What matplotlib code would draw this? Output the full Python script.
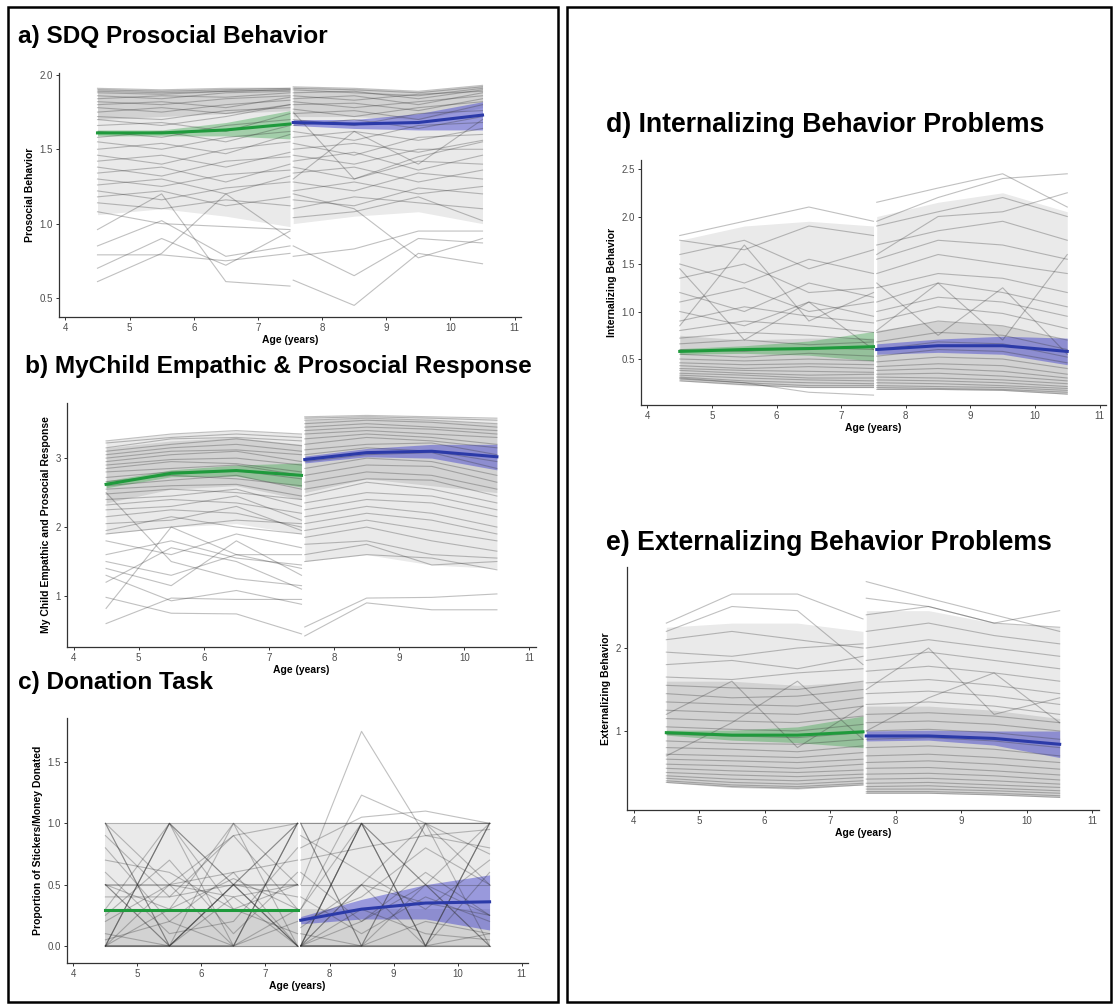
import numpy as np
import matplotlib
matplotlib.use("Agg")
import matplotlib.pyplot as plt
from matplotlib.patches import Rectangle

plt.rcParams["font.family"] = ["Liberation Sans", "DejaVu Sans"]

# ages of the two waves
ages_w1 = [4.5, 5.5, 6.5, 7.5]
ages_w2 = [7.55, 8.5, 9.5, 10.5]

# ---- a) SDQ prosocial: individual trajectories ----
a_w1 = [[1.91, 1.90, 1.91, 1.91], [1.90, 1.89, 1.90, 1.91], [1.89, 1.88, 1.89, 1.90],
        [1.88, 1.87, 1.89, 1.90], [1.86, 1.84, 1.88, 1.89], [1.84, 1.86, 1.85, 1.88],
        [1.82, 1.80, 1.84, 1.86], [1.80, 1.82, 1.78, 1.85], [1.78, 1.75, 1.80, 1.83],
        [1.75, 1.78, 1.74, 1.80], [1.72, 1.70, 1.76, 1.78], [1.70, 1.66, 1.72, 1.80],
        [1.66, 1.68, 1.62, 1.74], [1.62, 1.58, 1.66, 1.70], [1.58, 1.62, 1.55, 1.66],
        [1.55, 1.50, 1.58, 1.62], [1.50, 1.54, 1.47, 1.60], [1.46, 1.40, 1.50, 1.55],
        [1.42, 1.46, 1.38, 1.48], [1.38, 1.32, 1.42, 1.45], [1.34, 1.38, 1.28, 1.40],
        [1.30, 1.25, 1.33, 1.36], [1.26, 1.30, 1.20, 1.32], [1.22, 1.16, 1.24, 1.28],
        [1.18, 1.22, 1.12, 1.18], [1.14, 1.10, 1.16, 1.12], [1.08, 1.00, 0.98, 0.96],
        [0.85, 1.02, 0.78, 0.85], [0.79, 0.79, 0.75, 0.80], [0.70, 0.90, 0.72, 0.95],
        [0.61, 0.80, 1.20, 0.90], [0.96, 1.20, 0.61, 0.58]]
a_w2 = [[1.92, 1.91, 1.89, 1.93], [1.91, 1.90, 1.88, 1.92], [1.90, 1.88, 1.86, 1.91],
        [1.88, 1.89, 1.84, 1.90], [1.86, 1.83, 1.87, 1.89], [1.84, 1.86, 1.80, 1.88],
        [1.82, 1.78, 1.82, 1.86], [1.80, 1.81, 1.76, 1.84], [1.77, 1.72, 1.78, 1.82],
        [1.74, 1.76, 1.70, 1.80], [1.70, 1.66, 1.74, 1.76], [1.66, 1.70, 1.64, 1.72],
        [1.62, 1.56, 1.66, 1.68], [1.58, 1.62, 1.56, 1.64], [1.54, 1.46, 1.58, 1.60],
        [1.50, 1.54, 1.48, 1.56], [1.46, 1.40, 1.50, 1.50], [1.42, 1.48, 1.36, 1.46],
        [1.38, 1.30, 1.42, 1.40], [1.34, 1.38, 1.28, 1.36], [1.28, 1.22, 1.34, 1.30],
        [1.22, 1.28, 1.20, 1.25], [1.16, 1.12, 1.24, 1.20], [1.10, 1.18, 1.14, 1.10],
        [1.04, 1.08, 1.18, 1.02], [1.75, 1.30, 1.45, 1.55], [1.30, 1.62, 1.40, 1.70],
        [0.62, 0.45, 0.80, 0.73], [0.85, 0.65, 0.90, 0.87], [0.78, 0.83, 0.95, 0.95],
        [1.20, 1.10, 0.77, 0.90]]
# gray haze: where most trajectories lie (outer) and the darkest part (core)
a_outer_w1 = ([1.06, 1.10, 1.05, 0.98], [1.91, 1.90, 1.91, 1.91])
a_core_w1 = ([1.70, 1.72, 1.74, 1.76], [1.91, 1.90, 1.91, 1.91])
a_outer_w2 = ([1.00, 1.05, 1.08, 1.00], [1.92, 1.91, 1.89, 1.93])
a_core_w2 = ([1.72, 1.72, 1.70, 1.78], [1.92, 1.91, 1.89, 1.93])
a_mean_w1 = [1.61, 1.61, 1.63, 1.67]
a_lo_w1 = [1.59, 1.59, 1.59, 1.57]
a_hi_w1 = [1.63, 1.63, 1.68, 1.76]
a_mean_w2 = [1.68, 1.67, 1.68, 1.73]
a_lo_w2 = [1.66, 1.64, 1.63, 1.63]
a_hi_w2 = [1.70, 1.70, 1.74, 1.82]

# ---- b) MyChild empathic & prosocial response ----
b_w1 = [[3.25, 3.35, 3.40, 3.35], [3.22, 3.30, 3.35, 3.30], [3.15, 3.28, 3.30, 3.25],
        [3.10, 3.20, 3.28, 3.18], [3.05, 3.15, 3.20, 3.10], [3.00, 3.10, 3.12, 3.05],
        [2.95, 3.05, 3.10, 2.95], [2.90, 2.98, 3.00, 2.90], [2.85, 2.95, 2.92, 2.80],
        [2.80, 2.85, 2.90, 2.75], [2.72, 2.80, 2.82, 2.70], [2.66, 2.75, 2.70, 2.60],
        [2.60, 2.68, 2.75, 2.55], [2.55, 2.60, 2.62, 2.45], [2.48, 2.55, 2.50, 2.40],
        [2.40, 2.45, 2.55, 2.30], [2.32, 2.40, 2.35, 2.20], [2.25, 2.30, 2.45, 2.10],
        [2.15, 2.25, 2.20, 2.00], [2.05, 2.10, 2.30, 1.95], [1.95, 2.15, 2.00, 1.90],
        [1.90, 2.00, 2.10, 2.05], [1.80, 1.60, 1.90, 1.70], [1.60, 1.80, 1.55, 1.45],
        [1.50, 1.30, 1.60, 1.60], [1.40, 1.15, 1.80, 1.30], [2.50, 1.50, 1.25, 1.15],
        [1.20, 1.70, 1.50, 1.10], [0.82, 2.00, 1.60, 1.40], [0.98, 0.75, 0.74, 0.45],
        [0.60, 0.97, 0.95, 0.95], [1.30, 0.93, 1.08, 0.88]]
b_w2 = [[3.60, 3.62, 3.60, 3.58], [3.58, 3.60, 3.58, 3.55], [3.55, 3.58, 3.55, 3.50],
        [3.50, 3.55, 3.52, 3.45], [3.45, 3.50, 3.45, 3.40], [3.40, 3.45, 3.42, 3.35],
        [3.35, 3.40, 3.35, 3.30], [3.28, 3.35, 3.30, 3.20], [3.20, 3.30, 3.25, 3.15],
        [3.12, 3.20, 3.22, 3.05], [3.05, 3.15, 3.10, 2.95], [2.95, 3.05, 3.08, 2.85],
        [2.85, 3.00, 2.95, 2.75], [2.75, 2.90, 2.88, 2.65], [2.65, 2.80, 2.75, 2.55],
        [2.55, 2.70, 2.68, 2.45], [2.45, 2.65, 2.55, 2.35], [2.35, 2.50, 2.45, 2.25],
        [2.25, 2.40, 2.35, 2.15], [2.15, 2.30, 2.20, 2.00], [2.05, 2.20, 2.10, 1.90],
        [1.95, 2.10, 1.95, 1.80], [1.85, 2.00, 1.80, 1.65], [1.75, 1.80, 1.60, 1.55],
        [1.60, 1.75, 1.45, 1.50], [1.50, 1.60, 1.55, 1.38], [0.55, 0.97, 0.98, 1.03],
        [0.42, 0.90, 0.80, 0.80]]
b_outer_w1 = ([1.90, 2.00, 2.05, 1.90], [3.25, 3.35, 3.40, 3.35])
b_core_w1 = ([2.35, 2.55, 2.60, 2.40], [3.15, 3.25, 3.30, 3.20])
b_outer_w2 = ([1.50, 1.60, 1.45, 1.40], [3.60, 3.62, 3.60, 3.58])
b_core_w2 = ([2.50, 2.70, 2.60, 2.50], [3.55, 3.58, 3.55, 3.50])
b_mean_w1 = [2.62, 2.78, 2.82, 2.75]
b_lo_w1 = [2.57, 2.73, 2.74, 2.58]
b_hi_w1 = [2.67, 2.83, 2.90, 2.93]
b_mean_w2 = [2.98, 3.08, 3.10, 3.02]
b_lo_w2 = [2.93, 3.02, 3.00, 2.83]
b_hi_w2 = [3.03, 3.14, 3.20, 3.20]

# ---- c) Donation task ----
c_w1 = [[1, 0, 0.5, 0], [1, 0.5, 0, 1], [0, 1, 0, 1], [0, 1, 0.5, 0], [0, 0, 0.5, 1],
        [0.5, 0.5, 0.5, 0.5], [0.5, 0, 1, 0], [0, 0.5, 0.6, 0], [0.9, 0.4, 0.9, 0.3],
        [0.8, 0.2, 0.6, 0.7], [0, 0, 0, 0], [0, 0, 0, 0.2], [0.1, 0, 0.4, 0],
        [0.3, 1.0, 0.3, 0.1], [0.4, 0.4, 0.5, 0.4], [0.2, 0.5, 0.9, 1.0],
        [0.7, 0.6, 0.3, 0.5], [0.6, 0.1, 0.2, 0.8], [0, 0.3, 1, 0.5], [1, 1, 1, 1],
        [0.5, 0.3, 0.55, 0.3], [0.25, 0.7, 0.1, 0.6], [0, 0, 0.5, 0.5],
        [0.05, 0.2, 0.0, 0.3], [0, 0, 0, 0], [0.5, 0.5, 0.4, 0.5], [1, 0, 0, 1],
        [0, 1, 0.5, 1], [0.5, 0, 0.5, 0]]
c_w2 = [[1, 0, 1, 0], [0, 1, 0, 1], [0, 1, 1, 1], [1, 1, 1, 1], [0, 0, 0, 0],
        [0, 0.5, 0, 1], [0.5, 0.5, 0.5, 0.5], [0, 1, 0.5, 0.25], [1, 0, 0, 1],
        [0, 0, 1, 0.75], [0.9, 0.6, 0.3, 0.7], [0.2, 0.4, 0.8, 0.5], [0.1, 0, 0.2, 0.1],
        [0, 0.3, 0.1, 0.05], [0.6, 0.2, 0.5, 0], [0.3, 1, 0, 0.6], [0, 0.2, 0.6, 0.25],
        [0.7, 0.8, 0.9, 0.8], [0.4, 0.1, 0.4, 0.2], [0, 0, 0.5, 0], [0.5, 1.75, 0.9, 0.95],
        [0.3, 1.23, 1.0, 1.0], [0.8, 1.05, 1.1, 1.0], [0, 0, 0, 0.1],
        [0.15, 0.5, 0.35, 0.25], [0, 0, 0, 0], [0, 1, 0, 0], [1, 1, 0.5, 1],
        [0, 0.5, 1, 0.5]]
c_outer_w1 = ([0, 0, 0, 0], [1, 1, 1, 1])
c_core_w1 = ([0, 0, 0, 0], [0.3, 0.3, 0.3, 0.3])
c_outer_w2 = ([0, 0, 0, 0], [1, 1, 1, 1])
c_core_w2 = ([0, 0, 0, 0], [0.3, 0.3, 0.3, 0.3])
c_mean_w1 = [0.29, 0.29, 0.29, 0.29]
c_lo_w1 = [0.28, 0.28, 0.28, 0.28]
c_hi_w1 = [0.30, 0.30, 0.30, 0.30]
c_mean_w2 = [0.21, 0.30, 0.35, 0.36]
c_lo_w2 = [0.18, 0.22, 0.22, 0.13]
c_hi_w2 = [0.24, 0.38, 0.50, 0.58]

# ---- d) Internalizing ----
d_w1 = [[0.27, 0.23, 0.20, 0.20], [0.29, 0.25, 0.22, 0.22], [0.31, 0.27, 0.25, 0.24],
        [0.33, 0.30, 0.28, 0.27], [0.35, 0.33, 0.30, 0.30], [0.38, 0.35, 0.33, 0.34],
        [0.40, 0.38, 0.37, 0.36], [0.43, 0.40, 0.42, 0.40], [0.46, 0.44, 0.45, 0.44],
        [0.50, 0.48, 0.50, 0.48], [0.55, 0.52, 0.56, 0.53], [0.60, 0.58, 0.62, 0.60],
        [0.66, 0.70, 0.65, 0.68], [0.72, 0.78, 0.75, 0.70], [0.80, 0.90, 0.85, 0.78],
        [0.90, 1.05, 0.95, 0.88], [1.00, 0.85, 1.10, 0.95], [1.10, 1.25, 1.00, 1.10],
        [1.20, 1.00, 1.30, 1.15], [1.35, 1.50, 1.20, 1.25], [1.50, 1.30, 1.55, 1.40],
        [1.60, 1.75, 1.45, 1.65], [1.75, 1.65, 1.90, 1.80], [1.80, 1.95, 2.10, 1.95],
        [0.85, 1.70, 0.90, 1.20], [1.45, 0.70, 1.10, 0.60], [0.30, 0.25, 0.15, 0.12]]
d_w2 = [[0.18, 0.18, 0.17, 0.13], [0.20, 0.19, 0.18, 0.15], [0.22, 0.21, 0.20, 0.17],
        [0.25, 0.24, 0.22, 0.19], [0.28, 0.27, 0.25, 0.21], [0.31, 0.30, 0.28, 0.24],
        [0.34, 0.35, 0.32, 0.27], [0.38, 0.40, 0.37, 0.30], [0.42, 0.45, 0.43, 0.34],
        [0.47, 0.52, 0.50, 0.40], [0.53, 0.60, 0.58, 0.46], [0.60, 0.68, 0.66, 0.52],
        [0.68, 0.78, 0.75, 0.60], [0.78, 0.90, 0.85, 0.70], [0.90, 1.05, 0.98, 0.82],
        [1.00, 1.15, 1.10, 0.95], [1.10, 1.30, 1.20, 1.05], [1.25, 1.40, 1.35, 1.20],
        [1.40, 1.60, 1.50, 1.40], [1.55, 1.75, 1.70, 1.55], [1.70, 1.85, 1.95, 1.75],
        [1.90, 2.05, 2.20, 2.00], [2.15, 2.30, 2.45, 2.10], [1.95, 2.20, 2.40, 2.45],
        [1.60, 2.00, 2.05, 2.25], [0.80, 1.30, 0.70, 1.60], [1.30, 0.75, 1.25, 0.55]]
d_outer_w1 = ([0.27, 0.22, 0.20, 0.20], [1.75, 1.90, 1.95, 1.90])
d_core_w1 = ([0.27, 0.23, 0.20, 0.20], [0.75, 0.70, 0.72, 0.72])
d_outer_w2 = ([0.18, 0.18, 0.17, 0.13], [2.00, 2.15, 2.25, 2.05])
d_core_w2 = ([0.18, 0.18, 0.17, 0.13], [0.80, 0.90, 0.85, 0.70])
d_mean_w1 = [0.58, 0.60, 0.61, 0.63]
d_lo_w1 = [0.55, 0.56, 0.54, 0.48]
d_hi_w1 = [0.61, 0.64, 0.69, 0.79]
d_mean_w2 = [0.60, 0.64, 0.64, 0.58]
d_lo_w2 = [0.55, 0.57, 0.55, 0.44]
d_hi_w2 = [0.66, 0.71, 0.74, 0.72]

# ---- e) Externalizing ----
e_w1 = [[0.38, 0.33, 0.31, 0.35], [0.40, 0.35, 0.33, 0.37], [0.43, 0.38, 0.36, 0.40],
        [0.46, 0.42, 0.40, 0.44], [0.50, 0.47, 0.45, 0.48], [0.55, 0.52, 0.50, 0.53],
        [0.60, 0.58, 0.55, 0.60], [0.66, 0.64, 0.62, 0.66], [0.72, 0.70, 0.68, 0.74],
        [0.80, 0.78, 0.75, 0.82], [0.88, 0.85, 0.84, 0.90], [0.96, 0.94, 0.92, 0.98],
        [1.05, 1.02, 1.00, 1.08], [1.15, 1.12, 1.10, 1.18], [1.25, 1.22, 1.20, 1.30],
        [1.35, 1.32, 1.30, 1.40], [1.45, 1.40, 1.42, 1.50], [1.55, 1.52, 1.50, 1.60],
        [1.65, 1.62, 1.70, 1.75], [1.80, 1.85, 1.75, 1.90], [1.95, 1.90, 2.00, 2.05],
        [2.10, 2.20, 2.10, 2.00], [2.20, 2.50, 2.45, 1.80], [2.30, 2.65, 2.65, 2.35],
        [1.20, 1.60, 0.80, 1.30], [0.70, 1.10, 1.60, 0.90]]
e_w2 = [[0.25, 0.25, 0.23, 0.20], [0.27, 0.27, 0.25, 0.22], [0.30, 0.30, 0.28, 0.25],
        [0.33, 0.34, 0.31, 0.28], [0.37, 0.38, 0.35, 0.32], [0.42, 0.43, 0.40, 0.36],
        [0.48, 0.49, 0.46, 0.41], [0.55, 0.56, 0.52, 0.47], [0.62, 0.64, 0.60, 0.54],
        [0.70, 0.72, 0.68, 0.62], [0.80, 0.82, 0.78, 0.70], [0.90, 0.92, 0.88, 0.80],
        [1.00, 1.02, 0.98, 0.90], [1.10, 1.12, 1.08, 1.00], [1.20, 1.22, 1.18, 1.10],
        [1.32, 1.35, 1.30, 1.20], [1.45, 1.48, 1.42, 1.32], [1.58, 1.62, 1.55, 1.45],
        [1.72, 1.78, 1.70, 1.60], [1.85, 1.95, 1.85, 1.75], [2.00, 2.10, 2.00, 1.90],
        [2.20, 2.30, 2.15, 2.05], [2.40, 2.50, 2.30, 2.25], [2.60, 2.50, 2.30, 2.45],
        [2.80, 2.60, 2.40, 2.20], [1.50, 2.00, 1.20, 1.40], [1.00, 1.40, 1.70, 1.10]]
e_outer_w1 = ([0.38, 0.32, 0.30, 0.35], [2.25, 2.30, 2.30, 2.20])
e_core_w1 = ([0.38, 0.32, 0.30, 0.35], [1.60, 1.60, 1.55, 1.60])
e_outer_w2 = ([0.25, 0.25, 0.23, 0.20], [2.45, 2.45, 2.30, 2.25])
e_core_w2 = ([0.25, 0.25, 0.23, 0.20], [1.30, 1.30, 1.25, 1.15])
e_mean_w1 = [0.98, 0.95, 0.95, 0.99]
e_lo_w1 = [0.95, 0.89, 0.86, 0.80]
e_hi_w1 = [1.01, 1.01, 1.05, 1.18]
e_mean_w2 = [0.94, 0.94, 0.91, 0.84]
e_lo_w2 = [0.88, 0.89, 0.83, 0.68]
e_hi_w2 = [1.00, 1.01, 1.00, 1.00]

W, H = 1116, 1005
GREEN = "#1f9a3c"
BLUE = "#2b3aa8"

fig = plt.figure(figsize=(W / 100, H / 100), dpi=100)


def px_rect(l, r, t, b):
    return [l / W, 1 - b / H, (r - l) / W, (b - t) / H]


def draw_panel(rect, ylim, yticks, yticklabels, ylabel, w1, w2, haze,
               m1, lo1, hi1, m2, lo2, hi2):
    ax = fig.add_axes(px_rect(*rect))
    ax.patch.set_alpha(0)
    outer1, core1, outer2, core2 = haze
    # background haze of the many gray trajectories
    ax.fill_between(ages_w1, outer1[0], outer1[1], color="#404040", alpha=0.11, lw=0)
    ax.fill_between(ages_w1, core1[0], core1[1], color="#404040", alpha=0.14, lw=0)
    ax.fill_between(ages_w2, outer2[0], outer2[1], color="#404040", alpha=0.11, lw=0)
    ax.fill_between(ages_w2, core2[0], core2[1], color="#404040", alpha=0.14, lw=0)
    for traj in w1:
        ax.plot(ages_w1, traj, color="#303030", alpha=0.3, lw=0.8)
    for traj in w2:
        ax.plot(ages_w2, traj, color="#303030", alpha=0.3, lw=0.8)
    ax.fill_between(ages_w1, lo1, hi1, color="#3aa64a", alpha=0.4, lw=0)
    ax.fill_between(ages_w2, lo2, hi2, color="#4a4ad0", alpha=0.5, lw=0)
    ax.plot(ages_w1, m1, color=GREEN, lw=2.2)
    ax.plot(ages_w2, m2, color=BLUE, lw=2.2)
    ax.set_xlim(3.9, 11.1)
    ax.set_ylim(*ylim)
    ax.set_xticks(range(4, 12))
    ax.set_yticks(yticks)
    ax.set_yticklabels(yticklabels)
    for s in ["top", "right"]:
        ax.spines[s].set_visible(False)
    for s in ["left", "bottom"]:
        ax.spines[s].set_color("#333333")
        ax.spines[s].set_linewidth(0.9)
    ax.tick_params(length=2.5, width=0.7, color="#333333", labelsize=7,
                   labelcolor="#4d4d4d", pad=2)
    ax.set_xlabel("Age (years)", fontsize=7.5, fontweight="bold", labelpad=1)
    ax.set_ylabel(ylabel, fontsize=7.5, fontweight="bold", labelpad=3)
    return ax


draw_panel((59, 521, 73, 317), (0.372, 2.013), [0.5, 1.0, 1.5, 2.0],
           ["0.5", "1.0", "1.5", "2.0"], "Prosocial Behavior", a_w1, a_w2,
           (a_outer_w1, a_core_w1, a_outer_w2, a_core_w2),
           a_mean_w1, a_lo_w1, a_hi_w1, a_mean_w2, a_lo_w2, a_hi_w2)
draw_panel((67, 536, 403, 647), (0.26, 3.80), [1, 2, 3], ["1", "2", "3"],
           "My Child Empathic and Prosocial Response", b_w1, b_w2,
           (b_outer_w1, b_core_w1, b_outer_w2, b_core_w2),
           b_mean_w1, b_lo_w1, b_hi_w1, b_mean_w2, b_lo_w2, b_hi_w2)
draw_panel((67, 528, 718, 963), (-0.139, 1.859), [0.0, 0.5, 1.0, 1.5],
           ["0.0", "0.5", "1.0", "1.5"], "Proportion of Stickers/Money Donated",
           c_w1, c_w2, (c_outer_w1, c_core_w1, c_outer_w2, c_core_w2),
           c_mean_w1, c_lo_w1, c_hi_w1, c_mean_w2, c_lo_w2, c_hi_w2)
draw_panel((641, 1106, 160, 405), (0.016, 2.595), [0.5, 1.0, 1.5, 2.0, 2.5],
           ["0.5", "1.0", "1.5", "2.0", "2.5"], "Internalizing Behavior", d_w1, d_w2,
           (d_outer_w1, d_core_w1, d_outer_w2, d_core_w2),
           d_mean_w1, d_lo_w1, d_hi_w1, d_mean_w2, d_lo_w2, d_hi_w2)
draw_panel((627, 1099, 567, 810), (0.048, 2.976), [1, 2], ["1", "2"],
           "Externalizing Behavior", e_w1, e_w2,
           (e_outer_w1, e_core_w1, e_outer_w2, e_core_w2),
           e_mean_w1, e_lo_w1, e_hi_w1, e_mean_w2, e_lo_w2, e_hi_w2)

# panel titles
titles = ["a) SDQ Prosocial Behavior", "b) MyChild Empathic & Prosocial Response",
          "c) Donation Task", "d) Internalizing Behavior Problems",
          "e) Externalizing Behavior Problems"]
title_x = [18, 25, 18, 606, 606]
title_y = [37, 366, 682, 125, 543]
title_size = [17.6, 17.6, 17.6, 19.2, 19.2]
for t, x, y, fs in zip(titles, title_x, title_y, title_size):
    fig.text(x / W, 1 - y / H, t, fontsize=fs, fontweight="bold",
             ha="left", va="center")

# boxes round the two columns
for l, r in [(8, 558), (567, 1111)]:
    fig.add_artist(Rectangle((l / W, 3 / H), (r - l) / W, (998 - 3) / H,
                             transform=fig.transFigure, fill=False,
                             edgecolor="black", lw=1.8))

fig.savefig("out.png", dpi=100)
